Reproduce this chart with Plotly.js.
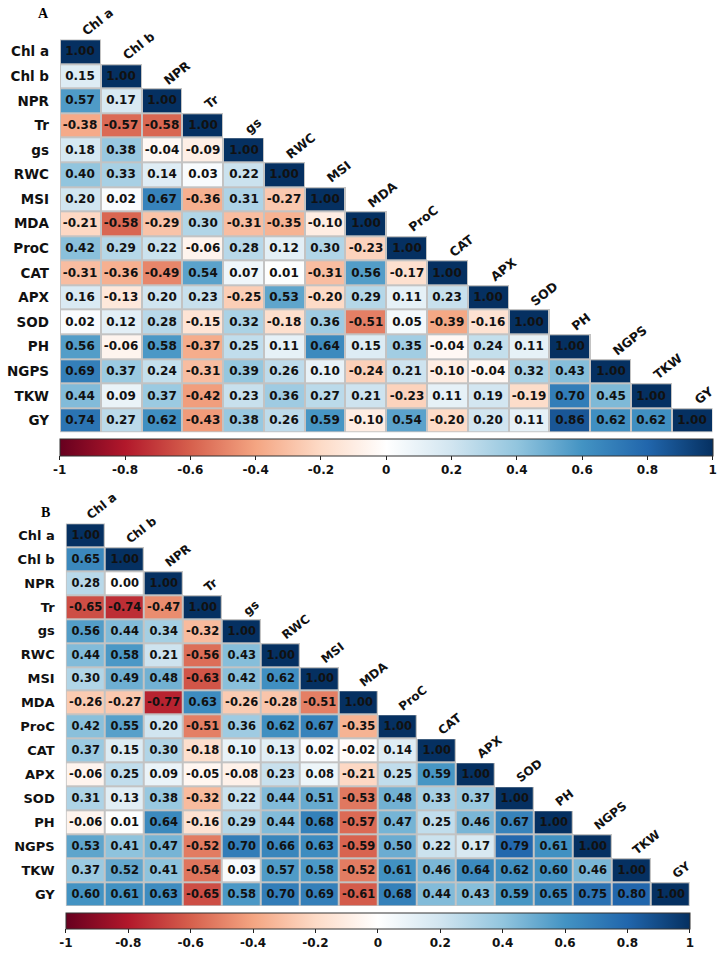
<!DOCTYPE html>
<html>
<head>
<meta charset="utf-8">
<script src="https://cdn.plot.ly/plotly-3.0.1.min.js"></script>
<style>html,body{margin:0;padding:0;background:#fff;}#chart{width:719px;height:961px;}</style>
</head>
<body>
<div id="chart"></div>
<script>
// ---------- data ----------
const labels = ['Chl a','Chl b','NPR','Tr','gs','RWC','MSI','MDA','ProC','CAT','APX','SOD','PH','NGPS','TKW','GY'];

const corrA = [
  [1.00],
  [0.15, 1.00],
  [0.57, 0.17, 1.00],
  [-0.38, -0.57, -0.58, 1.00],
  [0.18, 0.38, -0.04, -0.09, 1.00],
  [0.40, 0.33, 0.14, 0.03, 0.22, 1.00],
  [0.20, 0.02, 0.67, -0.36, 0.31, -0.27, 1.00],
  [-0.21, -0.58, -0.29, 0.30, -0.31, -0.35, -0.10, 1.00],
  [0.42, 0.29, 0.22, -0.06, 0.28, 0.12, 0.30, -0.23, 1.00],
  [-0.31, -0.36, -0.49, 0.54, 0.07, 0.01, -0.31, 0.56, -0.17, 1.00],
  [0.16, -0.13, 0.20, 0.23, -0.25, 0.53, -0.20, 0.29, 0.11, 0.23, 1.00],
  [0.02, 0.12, 0.28, -0.15, 0.32, -0.18, 0.36, -0.51, 0.05, -0.39, -0.16, 1.00],
  [0.56, -0.06, 0.58, -0.37, 0.25, 0.11, 0.64, 0.15, 0.35, -0.04, 0.24, 0.11, 1.00],
  [0.69, 0.37, 0.24, -0.31, 0.39, 0.26, 0.10, -0.24, 0.21, -0.10, -0.04, 0.32, 0.43, 1.00],
  [0.44, 0.09, 0.37, -0.42, 0.23, 0.36, 0.27, 0.21, -0.23, 0.11, 0.19, -0.19, 0.70, 0.45, 1.00],
  [0.74, 0.27, 0.62, -0.43, 0.38, 0.26, 0.59, -0.10, 0.54, -0.20, 0.20, 0.11, 0.86, 0.62, 0.62, 1.00]
];

const corrB = [
  [1.00],
  [0.65, 1.00],
  [0.28, 0.00, 1.00],
  [-0.65, -0.74, -0.47, 1.00],
  [0.56, 0.44, 0.34, -0.32, 1.00],
  [0.44, 0.58, 0.21, -0.56, 0.43, 1.00],
  [0.30, 0.49, 0.48, -0.63, 0.42, 0.62, 1.00],
  [-0.26, -0.27, -0.77, 0.63, -0.26, -0.28, -0.51, 1.00],
  [0.42, 0.55, 0.20, -0.51, 0.36, 0.62, 0.67, -0.35, 1.00],
  [0.37, 0.15, 0.30, -0.18, 0.10, 0.13, 0.02, -0.02, 0.14, 1.00],
  [-0.06, 0.25, 0.09, -0.05, -0.08, 0.23, 0.08, -0.21, 0.25, 0.59, 1.00],
  [0.31, 0.13, 0.38, -0.32, 0.22, 0.44, 0.51, -0.53, 0.48, 0.33, 0.37, 1.00],
  [-0.06, 0.01, 0.64, -0.16, 0.29, 0.44, 0.68, -0.57, 0.47, 0.25, 0.46, 0.67, 1.00],
  [0.53, 0.41, 0.47, -0.52, 0.70, 0.66, 0.63, -0.59, 0.50, 0.22, 0.17, 0.79, 0.61, 1.00],
  [0.37, 0.52, 0.41, -0.54, 0.03, 0.57, 0.58, -0.52, 0.61, 0.46, 0.64, 0.62, 0.60, 0.46, 1.00],
  [0.60, 0.61, 0.63, -0.65, 0.58, 0.70, 0.69, -0.61, 0.68, 0.44, 0.43, 0.59, 0.65, 0.75, 0.80, 1.00]
];

const cbTickVals = [-1, -0.8, -0.6, -0.4, -0.2, 0, 0.2, 0.4, 0.6, 0.8, 1];
const cbTickText = ['-1', '-0.8', '-0.6', '-0.4', '-0.2', '0', '0.2', '0.4', '0.6', '0.8', '1'];

// ---------- helpers ----------
const rdbu = [
  [0.0, '#67001F'], [0.1, '#B2182B'], [0.2, '#D6604D'], [0.3, '#F4A582'],
  [0.4, '#FDDBC7'], [0.5, '#FFFFFF'], [0.6, '#D1E5F0'], [0.7, '#92C5DE'],
  [0.8, '#4393C3'], [0.9, '#2166AC'], [1.0, '#053061']
];
const n = labels.length;
function fullZ(rows) {
  return labels.map((_, i) => labels.map((_, j) => (j <= i ? rows[i][j] : null)));
}
function textZ(rows) {
  return labels.map((_, i) => labels.map((_, j) => (j <= i ? rows[i][j].toFixed(2) : '')));
}
function maskZ() {
  return labels.map((_, i) => labels.map((_, j) => (j <= i ? 1 : null)));
}

const W = 719, H = 961;
const pA = {x0: 60, x1: 712.5, y0: 39.3, y1: 432.7, cbTop: 439, cbTh: 17, num: 12, row: 13.5, col: 12.5, std: 10};
const pB = {x0: 65.7, x1: 690, y0: 523.3, y1: 906, cbTop: 913, cbTh: 16, num: 11.5, row: 13, col: 12, std: 10};

const border = '#c3c3c3';
const traces = [];
const layout = {
  width: W, height: H,
  margin: {l: 0, r: 0, t: 0, b: 0},
  paper_bgcolor: '#fff', plot_bgcolor: 'rgba(0,0,0,0)',
  showlegend: false,
  annotations: []
};

function addPanel(rows, p, k, letter, letterPos) {
  const xa = k === 1 ? 'x' : 'x' + k, ya = k === 1 ? 'y' : 'y' + k;
  const ca = k === 1 ? 'coloraxis' : 'coloraxis' + k;
  traces.push({
    type: 'heatmap', x: labels, y: labels, z: maskZ(),
    colorscale: [[0, border], [1, border]], showscale: false, hoverinfo: 'skip',
    xaxis: xa, yaxis: ya
  });
  traces.push({
    type: 'heatmap', x: labels, y: labels, z: fullZ(rows), text: textZ(rows),
    texttemplate: '%{text}',
    textfont: {family: 'DejaVu Sans', size: p.num, color: '#111', weight: 'bold'},
    coloraxis: ca, xgap: 2, ygap: 2, hoverongaps: false,
    xaxis: xa, yaxis: ya
  });
  const xKey = k === 1 ? 'xaxis' : 'xaxis' + k, yKey = k === 1 ? 'yaxis' : 'yaxis' + k;
  layout[xKey] = {
    domain: [p.x0 / W, p.x1 / W], anchor: ya, type: 'category',
    categoryorder: 'array', categoryarray: labels,
    showticklabels: false, showgrid: false, zeroline: false, showline: false, ticks: '',
    range: [-0.5, n - 0.5], fixedrange: true
  };
  layout[yKey] = {
    domain: [1 - p.y1 / H, 1 - p.y0 / H], anchor: xa, type: 'category',
    categoryorder: 'array', categoryarray: labels,
    range: [n - 0.5, -0.5],
    showgrid: false, zeroline: false, showline: false, ticks: '',
    ticklabelstandoff: p.std,
    tickfont: {family: 'DejaVu Sans', size: p.row, color: '#111', weight: 'bold'},
    fixedrange: true
  };
  const cbLen = p.x1 - p.x0;
  layout[ca] = {
    cmin: -1, cmax: 1, colorscale: rdbu,
    colorbar: {
      orientation: 'h', lenmode: 'pixels', len: cbLen, thickness: p.cbTh,
      thicknessmode: 'pixels',
      x: (p.x0 + cbLen / 2) / W, xanchor: 'center',
      y: 1 - p.cbTop / H, yanchor: 'top', xpad: 0, ypad: 0,
      outlinecolor: '#333', outlinewidth: 1,
      ticks: 'outside', ticklen: 4, tickwidth: 1, tickcolor: '#222',
      tickvals: cbTickVals, ticktext: cbTickText,
      tickfont: {family: 'DejaVu Sans', size: 12, color: '#111', weight: 'bold'}
    }
  };
  const rowH = (p.y1 - p.y0) / n;
  labels.forEach((lab) => {
    layout.annotations.push({
      xref: xa, yref: ya, x: lab, y: lab, text: lab, showarrow: false,
      xanchor: 'left', yanchor: 'bottom', textangle: -38,
      xshift: -1, yshift: rowH / 2 + 1,
      borderpad: 0, borderwidth: 0,
      font: {family: 'DejaVu Sans', size: p.col, color: '#111', weight: 'bold'}
    });
  });
  layout.annotations.push({
    xref: 'paper', yref: 'paper', x: letterPos[0] / W, y: 1 - letterPos[1] / H,
    xanchor: 'center', yanchor: 'middle', showarrow: false, text: letter,
    font: {family: 'Liberation Serif', size: 14, color: '#000', weight: 'bold'}
  });
}

addPanel(corrA, pA, 1, 'A', [43, 14]);
addPanel(corrB, pB, 2, 'B', [45.5, 512.5]);

Plotly.newPlot('chart', traces, layout, {staticPlot: true, displayModeBar: false});
</script>
</body>
</html>
